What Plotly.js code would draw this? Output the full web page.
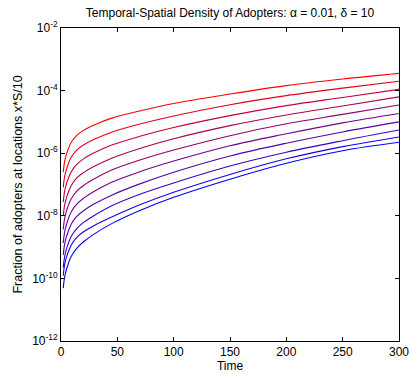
<!DOCTYPE html>
<html>
<head>
<meta charset="utf-8">
<script src="https://cdn.plot.ly/plotly-3.0.1.min.js"></script>
<style>html,body{margin:0;padding:0;background:#fff;}#chart{width:410px;height:374px;}</style>
</head>
<body>
<div id="chart"></div>
<script>
// Time samples
var time = [2, 3, 4, 6, 9, 14, 20, 30, 45, 70, 100, 150, 200, 250, 300];

// log10 of the fraction of adopters, one array per location (red -> blue)
var loc1  = [-6.61, -6.31, -6.14, -5.91, -5.66, -5.43, -5.27, -5.09, -4.88, -4.65, -4.41, -4.11, -3.84, -3.63, -3.45];
var loc2  = [-7.09, -6.79, -6.62, -6.39, -6.13, -5.90, -5.74, -5.55, -5.33, -5.07, -4.81, -4.45, -4.16, -3.92, -3.70];
var loc3  = [-7.56, -7.26, -7.09, -6.85, -6.60, -6.36, -6.18, -5.98, -5.74, -5.46, -5.18, -4.80, -4.48, -4.22, -3.96];
var loc4  = [-8.01, -7.70, -7.53, -7.30, -7.04, -6.79, -6.62, -6.41, -6.16, -5.85, -5.54, -5.12, -4.78, -4.49, -4.20];
var loc5  = [-8.44, -8.13, -7.96, -7.72, -7.46, -7.21, -7.03, -6.81, -6.54, -6.22, -5.90, -5.44, -5.06, -4.76, -4.46];
var loc6  = [-8.87, -8.56, -8.39, -8.15, -7.88, -7.63, -7.44, -7.21, -6.93, -6.59, -6.25, -5.76, -5.38, -5.03, -4.73];
var loc7  = [-9.25, -8.95, -8.77, -8.54, -8.27, -8.02, -7.84, -7.61, -7.34, -6.98, -6.61, -6.09, -5.68, -5.32, -5.00];
var loc8  = [-9.65, -9.35, -9.17, -8.93, -8.66, -8.41, -8.21, -7.98, -7.68, -7.31, -6.95, -6.41, -5.97, -5.60, -5.26];
var loc9  = [-9.91, -9.60, -9.43, -9.20, -8.94, -8.69, -8.51, -8.30, -8.04, -7.65, -7.25, -6.68, -6.18, -5.79, -5.48];
var loc10 = [-10.31, -10.00, -9.82, -9.58, -9.30, -9.04, -8.83, -8.57, -8.25, -7.83, -7.41, -6.83, -6.32, -5.92, -5.65];

var series = [loc1, loc2, loc3, loc4, loc5, loc6, loc7, loc8, loc9, loc10];

var yTickVals = [1e-12, 1e-10, 1e-8, 1e-6, 1e-4, 1e-2];
var yTickText = ['10<sup>-12</sup>', '10<sup>-10</sup>', '10<sup>-8</sup>', '10<sup>-6</sup>', '10<sup>-4</sup>', '10<sup>-2</sup>'];
var xTickVals = [0, 50, 100, 150, 200, 250, 300];

var traces = series.map(function (s, i) {
  var f = i / (series.length - 1);
  var r = Math.round(255 * (1 - f)), b = Math.round(255 * f);
  return {
    x: time,
    y: s.map(function (v) { return Math.pow(10, v); }),
    type: 'scatter',
    mode: 'lines',
    line: {color: 'rgb(' + r + ',0,' + b + ')', width: 1.1, shape: 'spline', smoothing: 1},
    showlegend: false,
    hoverinfo: 'skip'
  };
});

var fam = 'Liberation Sans, Arial, sans-serif';

var layout = {
  width: 410,
  height: 374,
  margin: {l: 61, r: 11, t: 28, b: 33},
  paper_bgcolor: '#fff',
  plot_bgcolor: '#fff',
  font: {family: fam, size: 11, color: '#000'},
  title: {
    text: 'Temporal-Spatial Density of Adopters: α = 0.01, δ = 10',
    font: {family: fam, size: 12, color: '#000'},
    x: 0.561, xanchor: 'center', y: 0.967, yanchor: 'middle'
  },
  xaxis: {
    range: [0, 300],
    tickvals: xTickVals,
    ticks: 'inside', ticklen: 4, tickcolor: '#000', tickwidth: 1,
    showline: true, linecolor: '#000', linewidth: 1, mirror: 'ticks',
    showgrid: false, zeroline: false,
    tickfont: {family: fam, size: 12, color: '#000'},
    title: {text: 'Time', font: {family: fam, size: 12, color: '#000'}, standoff: 2}
  },
  yaxis: {
    type: 'log',
    range: [-12, -2],
    tickvals: yTickVals,
    ticktext: yTickText,
    ticks: 'inside', ticklen: 4, tickcolor: '#000', tickwidth: 1,
    showline: true, linecolor: '#000', linewidth: 1, mirror: 'ticks',
    showgrid: false, zeroline: false,
    tickfont: {family: fam, size: 12, color: '#000'},
    title: {text: 'Fraction of adopters at locations x*S/10', font: {family: fam, size: 12.5, color: '#000'}, standoff: 6}
  }
};

Plotly.newPlot('chart', traces, layout, {staticPlot: true, displayModeBar: false});
</script>
</body>
</html>
